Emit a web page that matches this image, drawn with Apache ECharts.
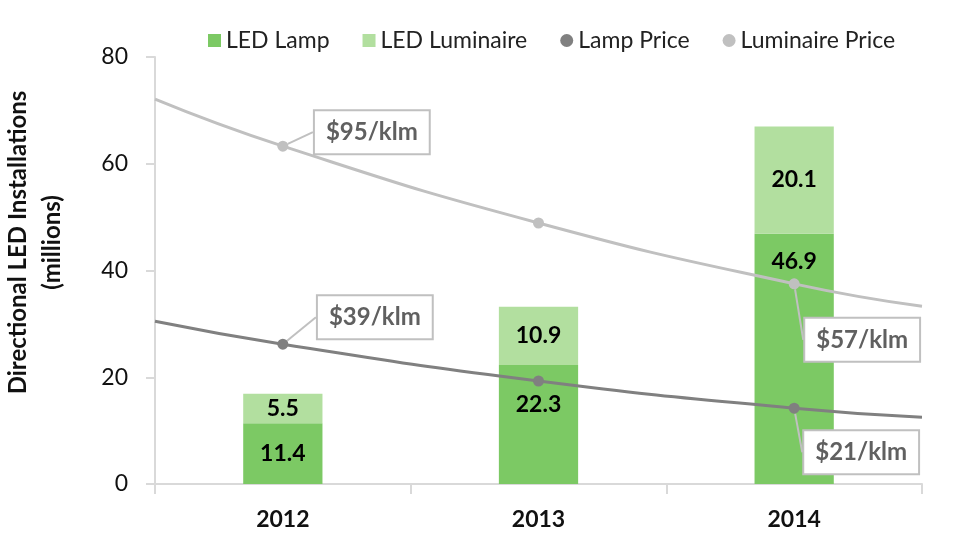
<!DOCTYPE html>
<html>
<head>
<meta charset="utf-8">
<script src="https://cdn.jsdelivr.net/npm/echarts@6/dist/echarts.min.js"></script>
<style>
  html, body { margin: 0; padding: 0; background: #fff; }
  #main { width: 953px; height: 535px; }
</style>
</head>
<body>
<div id="main"></div>
<script>
var years = ["2012", "2013", "2014"];
var lampUnits = [11.4, 22.3, 46.9];
var luminaireUnits = [5.5, 10.9, 20.1];
// trend lines: x positions (category index), edge of plot at -0.5 and 2.5
var trendX = [-0.5, 0, 1, 2, 2.5];
var lampPrice = [30.5, 26.2, 19.3, 14.2, 12.5];
var luminairePrice = [72.1, 63.3, 48.9, 37.5, 33.3];
var lampPriceLabels = {1: "$39/klm", 3: "$21/klm"};
var luminairePriceLabels = {1: "$95/klm", 3: "$57/klm"};

var font = "Lato, 'Open Sans', sans-serif";

function trendData(vals, labels) {
    return vals.map(function (v, i) {
        var item = { value: [trendX[i], v] };
        if (i === 0 || i === vals.length - 1) item.symbol = "none";
        if (labels[i]) {
            item.label = { show: true, formatter: labels[i] };
        }
        return item;
    });
}

var calloutLabel = {
    show: false,
    position: "inside",
    fontFamily: font,
    fontWeight: "bold",
    fontSize: 24,
    color: "#606060",
    backgroundColor: "#fff",
    borderColor: "#c0c0c0",
    borderWidth: 2,
    padding: [10, 11, 8, 11]
};

var offsets = {
    lamp: {1: [92, -27], 3: [67, 44]},
    lum: {1: [89, -14], 3: [68, 56]}
};

var option = {
    animation: false,
    textStyle: { fontFamily: font },
    legend: {
        top: 24,
        left: 203,
        itemWidth: 13,
        itemHeight: 13,
        itemGap: 33,
        textStyle: { fontSize: 23, color: "#222", fontFamily: font },
        data: [
            { name: "LED Lamp", icon: "rect" },
            { name: "LED Luminaire", icon: "rect" },
            { name: "Lamp Price", icon: "circle" },
            { name: "Luminaire Price", icon: "circle" }
        ]
    },
    grid: { left: 155, right: 31, top: 57, bottom: 51, outerBoundsMode: "none" },
    xAxis: [
        {
            type: "category",
            data: years,
            axisLine: { lineStyle: { color: "#d9d9d9", width: 2 } },
            axisTick: { show: true, length: 10, lineStyle: { color: "#d9d9d9", width: 2 } },
            axisLabel: { fontSize: 23, fontWeight: "bold", color: "#111", margin: 24, fontFamily: font },
            splitLine: { show: false }
        },
        {
            type: "value",
            min: -0.5,
            max: 2.5,
            show: false
        }
    ],
    yAxis: {
        type: "value",
        min: 0,
        max: 80,
        interval: 20,
        name: "Directional LED Installations\n(millions)",
        nameLocation: "middle",
        nameGap: 86,
        nameTextStyle: { fontSize: 24, fontWeight: "bold", color: "#111", lineHeight: 34, fontFamily: font, padding: [0, 0, 0, 56] },
        axisLine: { show: true, onZero: false, lineStyle: { color: "#d9d9d9", width: 2 } },
        axisTick: { show: true, length: 9, lineStyle: { color: "#d9d9d9", width: 2 } },
        axisLabel: { fontSize: 23, color: "#111", margin: 27, fontFamily: font },
        splitLine: { show: false }
    },
    series: [
        {
            name: "LED Lamp",
            type: "bar",
            stack: "units",
            barWidth: "31%",
            itemStyle: { color: "#7cc964" },
            label: {
                show: true,
                position: "inside",
                fontSize: 23,
                fontWeight: "bold",
                color: "#000",
                fontFamily: font
            },
            data: lampUnits.map(function (v, i) {
                if (i === 1) return { value: v, label: { position: "insideTop", distance: 28 } };
                if (i === 2) return { value: v, label: { position: "insideTop", distance: 16 } };
                return v;
            })
        },
        {
            name: "LED Luminaire",
            type: "bar",
            stack: "units",
            itemStyle: { color: "#b2df9f" },
            label: {
                show: true,
                position: "inside",
                fontSize: 23,
                fontWeight: "bold",
                color: "#000",
                fontFamily: font
            },
            data: luminaireUnits
        },
        {
            name: "Lamp Price",
            type: "line",
            xAxisIndex: 1,
            smooth: true,
            symbol: "circle",
            symbolSize: 11,
            z: 5,
            lineStyle: { color: "#808080", width: 3 },
            itemStyle: { color: "#808080" },
            label: calloutLabel,
            labelLine: { show: true, lineStyle: { color: "#c0c0c0", width: 2 } },
            labelLayout: function (p) {
                var o = offsets.lamp[p.dataIndex];
                return o ? { dx: o[0], dy: o[1] } : {};
            },
            data: trendData(lampPrice, lampPriceLabels)
        },
        {
            name: "Luminaire Price",
            type: "line",
            xAxisIndex: 1,
            smooth: true,
            symbol: "circle",
            symbolSize: 11,
            z: 5,
            lineStyle: { color: "#c0c0c0", width: 3 },
            itemStyle: { color: "#c0c0c0" },
            label: calloutLabel,
            labelLine: { show: true, lineStyle: { color: "#c0c0c0", width: 2 } },
            labelLayout: function (p) {
                var o = offsets.lum[p.dataIndex];
                return o ? { dx: o[0], dy: o[1] } : {};
            },
            data: trendData(luminairePrice, luminairePriceLabels)
        }
    ]
};

var chart = echarts.init(document.getElementById("main"));
chart.setOption(option);
</script>
</body>
</html>
